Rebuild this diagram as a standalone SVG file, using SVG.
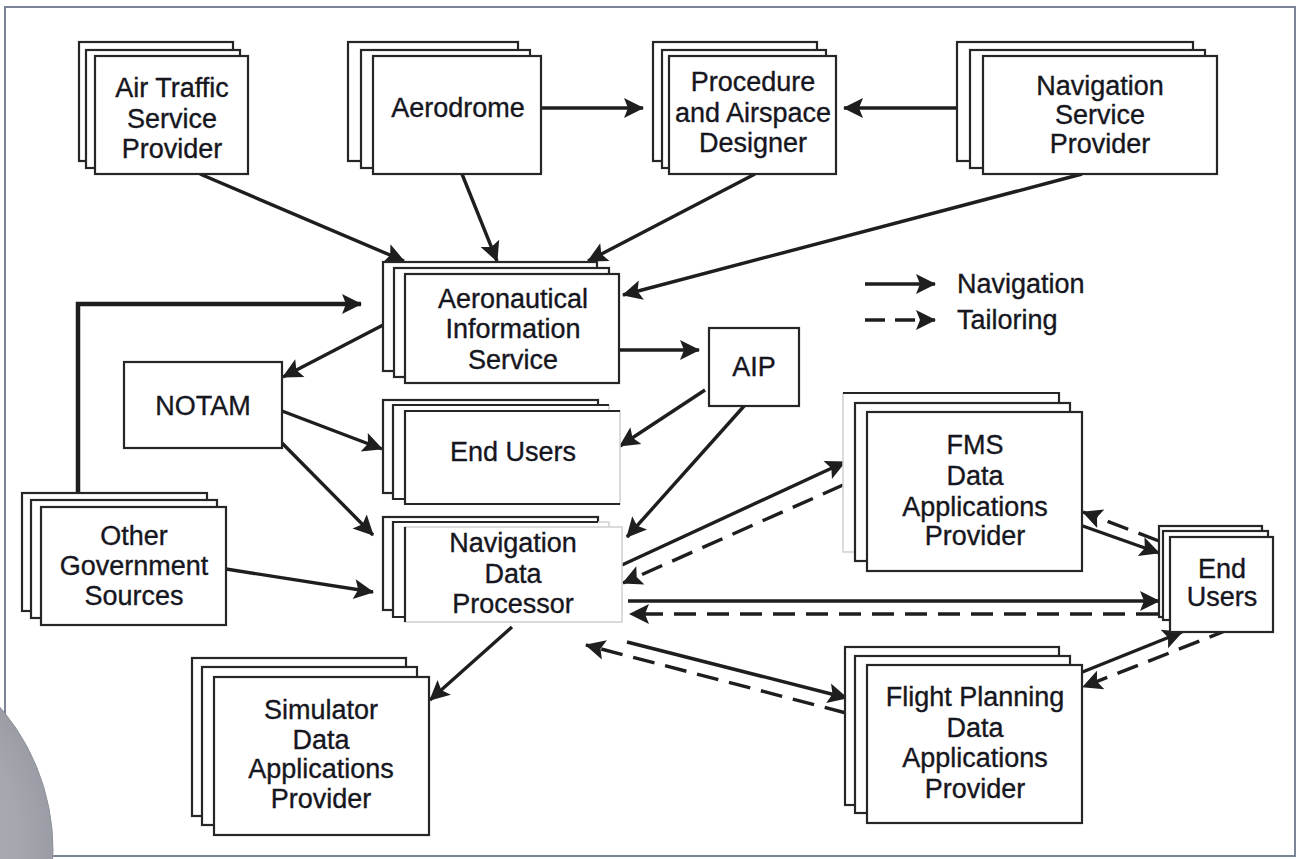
<svg xmlns="http://www.w3.org/2000/svg" width="1297" height="859" viewBox="0 0 1297 859">
<style>
.b{fill:#fff;stroke:#262626;stroke-width:2.2}
.lt{fill:#fff;stroke:#cfcfcf;stroke-width:1.5}
.dk{fill:none;stroke:#262626;stroke-width:2.2}
.t{font-family:"Liberation Sans",Arial,sans-serif;font-size:27px;fill:#16161e;stroke:#16161e;stroke-width:0.35;text-anchor:middle}
.tl{font-family:"Liberation Sans",Arial,sans-serif;font-size:27px;fill:#16161e;stroke:#16161e;stroke-width:0.35}
.c{fill:none;stroke:#1e1e1e;stroke-width:3.4}
.d{fill:none;stroke:#1e1e1e;stroke-width:3.4;stroke-dasharray:22 11}
</style>
<defs>
<marker id="ah" markerUnits="userSpaceOnUse" markerWidth="26" markerHeight="26" viewBox="-23 -13 26 26" refX="0" refY="0" orient="auto">
<path d="M1,0 L-19,-10 L-15,0 L-19,10 Z" fill="#1e1e1e"/>
</marker>
<radialGradient id="gr" cx="-166" cy="850" r="219" gradientUnits="userSpaceOnUse">
<stop offset="0" stop-color="#c3c5cb"/>
<stop offset="0.85" stop-color="#a4a7ae"/>
<stop offset="1" stop-color="#9a9da5"/>
</radialGradient>
</defs>
<rect x="0" y="0" width="1297" height="859" fill="#fff"/>
<rect x="5" y="7" width="1290" height="849" fill="none" stroke="#7a8397" stroke-width="2"/>
<circle cx="-166" cy="850" r="219" fill="url(#gr)" stroke="#8e929a" stroke-width="1"/>

<g id="connectors">
<line class="c" x1="200" y1="174" x2="404" y2="261" marker-end="url(#ah)"/>
<line class="c" x1="462" y1="174" x2="497" y2="261" marker-end="url(#ah)"/>
<line class="c" x1="755" y1="174" x2="588" y2="261" marker-end="url(#ah)"/>
<line class="c" x1="1082" y1="174" x2="623" y2="295" marker-end="url(#ah)"/>
<line class="c" x1="541" y1="108" x2="643" y2="108" marker-end="url(#ah)"/>
<line class="c" x1="957" y1="108" x2="844" y2="108" marker-end="url(#ah)"/>
<line class="c" x1="385" y1="324" x2="283" y2="377" marker-end="url(#ah)"/>
<line class="c" x1="617" y1="350" x2="699" y2="350" marker-end="url(#ah)"/>
<line class="c" x1="705" y1="390" x2="620" y2="446" marker-end="url(#ah)"/>
<line class="c" x1="745" y1="405" x2="627" y2="537" marker-end="url(#ah)"/>
<line class="c" x1="282" y1="411" x2="382" y2="449" marker-end="url(#ah)"/>
<line class="c" x1="282" y1="443" x2="373" y2="535" marker-end="url(#ah)"/>
<line class="c" x1="226" y1="569" x2="373" y2="592" marker-end="url(#ah)"/>
<line class="c" x1="512" y1="627" x2="430" y2="700" marker-end="url(#ah)"/>
<polyline class="c" style="stroke-width:4.5" points="78,493 78,304 361,304" marker-end="url(#ah)"/>
<line class="c" x1="622" y1="565" x2="845" y2="462" marker-end="url(#ah)"/>
<line class="d" x1="843" y1="485" x2="623" y2="583" marker-end="url(#ah)"/>
<line class="c" x1="628" y1="601" x2="1159" y2="601" marker-end="url(#ah)"/>
<line class="d" x1="1158" y1="614" x2="630" y2="614" marker-end="url(#ah)"/>
<line class="c" x1="627" y1="642" x2="847" y2="698" marker-end="url(#ah)"/>
<line class="d" x1="846" y1="713" x2="586" y2="645" marker-end="url(#ah)"/>
<line class="c" x1="1080" y1="525" x2="1159" y2="553" marker-end="url(#ah)"/>
<line class="d" x1="1159" y1="541" x2="1083" y2="512" marker-end="url(#ah)"/>
<line class="c" x1="1080" y1="673" x2="1182" y2="632" marker-end="url(#ah)"/>
<line class="d" x1="1230" y1="629" x2="1083" y2="687" marker-end="url(#ah)"/>
</g>

<g id="atsp">
<rect class="b" x="79" y="42" width="154" height="119"/>
<rect class="b" x="86" y="50" width="154" height="118"/>
<rect class="b" x="95" y="56" width="153" height="118"/>
<text class="t" x="172" y="97">Air Traffic</text>
<text class="t" x="172" y="128">Service</text>
<text class="t" x="172" y="158">Provider</text>
</g>
<g id="aerodrome">
<rect class="b" x="348" y="42" width="170" height="119"/>
<rect class="b" x="361" y="50" width="169" height="118"/>
<rect class="b" x="373" y="56" width="168" height="118"/>
<text class="t" x="458" y="117">Aerodrome</text>
</g>
<g id="procedure">
<rect class="b" x="653" y="42" width="164" height="119"/>
<rect class="b" x="662" y="50" width="164" height="118"/>
<rect class="b" x="669" y="56" width="167" height="118"/>
<text class="t" x="753" y="91">Procedure</text>
<text class="t" x="753" y="122">and Airspace</text>
<text class="t" x="753" y="152">Designer</text>
</g>
<g id="nsp">
<rect class="b" x="957" y="42" width="236" height="119"/>
<rect class="b" x="970" y="50" width="235" height="118"/>
<rect class="b" x="983" y="56" width="234" height="118"/>
<text class="t" x="1100" y="95">Navigation</text>
<text class="t" x="1100" y="124">Service</text>
<text class="t" x="1100" y="153">Provider</text>
</g>
<g id="ais">
<rect class="b" x="383" y="262" width="214" height="109"/>
<rect class="b" x="394" y="268" width="215" height="109"/>
<rect class="b" x="405" y="274" width="214" height="109"/>
<text class="t" x="513" y="308">Aeronautical</text>
<text class="t" x="513" y="338">Information</text>
<text class="t" x="513" y="369">Service</text>
</g>
<g id="notam">
<rect class="b" x="124" y="362" width="158" height="86"/>
<text class="t" x="203" y="415">NOTAM</text>
</g>
<g id="aip">
<rect class="b" x="709" y="328" width="90" height="78"/>
<text class="t" x="754" y="376">AIP</text>
</g>
<g id="endusers1">
<rect class="b" x="383" y="400" width="215" height="93"/>
<rect class="lt" x="393" y="405" width="216" height="94"/>
<path class="dk" d="M609,405 H393 V499 H609"/>
<rect class="lt" x="405" y="411" width="215" height="93"/>
<path class="dk" d="M620,411 H405 V504 H620"/>
<text class="t" x="513" y="461">End Users</text>
</g>
<g id="ndp">
<rect class="b" x="383" y="517" width="215" height="93"/>
<rect class="lt" x="393" y="522" width="216" height="95"/>
<path class="dk" d="M598,522 H393 V617 H609"/>
<rect class="lt" x="405" y="527" width="217" height="95"/>
<path class="dk" d="M405,527 V622"/>
<text class="t" x="513" y="552">Navigation</text>
<text class="t" x="513" y="583">Data</text>
<text class="t" x="513" y="613">Processor</text>
</g>
<g id="ogs">
<rect class="b" x="22" y="493" width="185" height="118"/>
<rect class="b" x="31" y="500" width="186" height="118"/>
<rect class="b" x="41" y="507" width="185" height="118"/>
<text class="t" x="134" y="545">Other</text>
<text class="t" x="134" y="575">Government</text>
<text class="t" x="134" y="605">Sources</text>
</g>
<g id="simulator">
<rect class="b" x="192" y="658" width="214" height="158"/>
<rect class="b" x="202" y="667" width="215" height="158"/>
<rect class="b" x="214" y="677" width="215" height="158"/>
<text class="t" x="321" y="719">Simulator</text>
<text class="t" x="321" y="749">Data</text>
<text class="t" x="321" y="778">Applications</text>
<text class="t" x="321" y="808">Provider</text>
</g>
<g id="fms">
<rect class="lt" x="843" y="393" width="216" height="159"/>
<path class="dk" d="M843,393 H1059 V552"/>
<rect class="b" x="855" y="403" width="215" height="158"/>
<rect class="b" x="867" y="412" width="215" height="159"/>
<text class="t" x="975" y="454">FMS</text>
<text class="t" x="975" y="485">Data</text>
<text class="t" x="975" y="516">Applications</text>
<text class="t" x="975" y="545">Provider</text>
</g>
<g id="endusers2">
<rect class="b" x="1159" y="526" width="103" height="91"/>
<rect class="b" x="1163" y="531" width="105" height="89"/>
<rect class="b" x="1170" y="537" width="103" height="95"/>
<text class="t" x="1222" y="578">End</text>
<text class="t" x="1222" y="606">Users</text>
</g>
<g id="flightplanning">
<rect class="b" x="845" y="647" width="214" height="158"/>
<rect class="b" x="855" y="656" width="215" height="157"/>
<rect class="b" x="867" y="665" width="215" height="158"/>
<text class="t" x="975" y="706">Flight Planning</text>
<text class="t" x="975" y="737">Data</text>
<text class="t" x="975" y="767">Applications</text>
<text class="t" x="975" y="798">Provider</text>
</g>
<g id="legend">
<line class="c" x1="865" y1="284" x2="935" y2="284" marker-end="url(#ah)"/>
<line class="d" x1="865" y1="320" x2="935" y2="320" style="stroke-dasharray:20 10" marker-end="url(#ah)"/>
<text class="tl" x="957" y="293">Navigation</text>
<text class="tl" x="957" y="329">Tailoring</text>
</g>
</svg>
